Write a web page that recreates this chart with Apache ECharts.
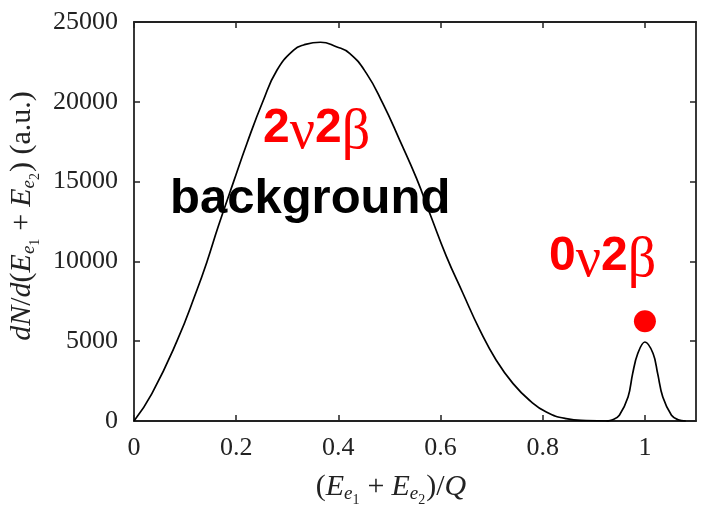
<!DOCTYPE html>
<html>
<head>
<meta charset="utf-8">
<script src="https://cdn.jsdelivr.net/npm/echarts@6/dist/echarts.min.js"></script>
<style>
  html, body { margin: 0; padding: 0; background: #fff; }
  #chart { width: 701px; height: 505px; }
</style>
</head>
<body>
<div id="chart"></div>
<script>
// Two-neutrino continuum: summed electron energy (fraction of Q) vs. rate
const bgEnergy = [0, 0.035, 0.084, 0.123, 0.143, 0.165, 0.195, 0.221, 0.252, 0.280, 0.3125,
  0.332, 0.365, 0.396, 0.422, 0.455, 0.487, 0.520, 0.553, 0.582, 0.611, 0.644, 0.677,
  0.709, 0.742, 0.774, 0.807, 0.846, 0.885, 0.93];
const bgRate = [0, 1720, 5000, 8195, 10000, 12200, 15000, 17390, 20000, 21990, 23240,
  23560, 23730, 23450, 23040, 21780, 19900, 17600, 15200, 12750, 10350, 7990, 5690,
  3810, 2340, 1300, 565, 150, 30, 0];

// Neutrinoless peak at the endpoint
const peakEnergy = [0.925, 0.937, 0.950, 0.967, 0.976, 0.986, 1.0, 1.016, 1.025, 1.035, 1.052, 1.065, 1.08];
const peakRate = [0, 80, 360, 1500, 2970, 4230, 4950, 4230, 2970, 1500, 360, 80, 0];

// Marker above the peak
const signalMarker = [[1.0, 6250]];

// Tick positions
const xTicks = [0, 0.2, 0.4, 0.6, 0.8, 1];
const yTicks = [0, 5000, 10000, 15000, 20000, 25000];

const toPairs = (xs, ys) => xs.map((x, i) => [x, ys[i]]);

const serif = 'Liberation Serif';
const frameColor = '#222';

const mathRich = {
  p:  { fontFamily: serif, fontSize: 30, lineHeight: 30, verticalAlign: 'top', color: frameColor },
  op: { fontFamily: serif, fontSize: 30, lineHeight: 30, verticalAlign: 'top', color: frameColor, padding: [0, 7, 0, 7] },
  i:  { fontFamily: serif, fontStyle: 'italic', fontSize: 30, lineHeight: 30, verticalAlign: 'top', color: frameColor },
  s:  { fontFamily: serif, fontStyle: 'italic', fontSize: 19, lineHeight: 19, verticalAlign: 'top', color: frameColor, padding: [12, 0, 0, 0] },
  ss: { fontFamily: serif, fontSize: 14, lineHeight: 14, verticalAlign: 'top', color: frameColor, padding: [21, 1, 0, 0] }
};

function axisLine() {
  return { show: true, onZero: false, lineStyle: { color: frameColor, width: 1.8 } };
}
function axisTick(values) {
  return { show: true, inside: true, length: 6, customValues: values, lineStyle: { color: frameColor, width: 1.5 } };
}

const chart = echarts.init(document.getElementById('chart'), null, { renderer: 'canvas' });

const red = '#ff0000';
const bigSans = { fontFamily: 'Liberation Sans', fontWeight: 'bold', fontSize: 48, lineHeight: 56, verticalAlign: 'top' };
const greek = { fontFamily: serif, fontSize: 56, lineHeight: 56, verticalAlign: 'top' };

chart.setOption({
  animation: false,
  backgroundColor: '#fff',
  grid: { left: 134, right: 5, top: 22, bottom: 84, containLabel: false, outerBoundsMode: 'none' },
  xAxis: [
    {
      type: 'value', min: 0, max: 1.1, position: 'bottom',
      axisLine: axisLine(),
      axisTick: axisTick(xTicks),
      axisLabel: { customValues: xTicks, fontFamily: serif, fontSize: 26, color: frameColor, margin: 14,
        formatter: v => String(v) },
      splitLine: { show: false },
      name: '{p|(}{i|E}{s|e}{ss|1}{op|+}{i|E}{s|e}{ss|2}{p|)/}{i|Q}',
      nameLocation: 'middle', nameGap: 51,
      nameTextStyle: { rich: mathRich, padding: [0, 48, 0, 0] }
    },
    {
      type: 'value', min: 0, max: 1.1, position: 'top',
      axisLine: axisLine(),
      axisTick: axisTick(xTicks),
      axisLabel: { show: false },
      splitLine: { show: false }
    }
  ],
  yAxis: [
    {
      type: 'value', min: 0, max: 25000, position: 'left',
      axisLine: axisLine(),
      axisTick: axisTick(yTicks),
      axisLabel: { customValues: yTicks, fontFamily: serif, fontSize: 26, color: frameColor, margin: 16,
        formatter: v => String(v) },
      splitLine: { show: false },
      name: '{i|dN}{p|/}{i|d}{p|(}{i|E}{s|e}{ss|1}{op|+}{i|E}{s|e}{ss|2}{p|) (a.u.)}',
      nameLocation: 'middle', nameRotate: 90, nameGap: 88,
      nameTextStyle: { rich: mathRich, padding: [0, 0, 0, 11] }
    },
    {
      type: 'value', min: 0, max: 25000, position: 'right',
      axisLine: axisLine(),
      axisTick: axisTick(yTicks),
      axisLabel: { show: false },
      splitLine: { show: false }
    }
  ],
  series: [
    {
      name: '2ν2β', type: 'line', xAxisIndex: 0, yAxisIndex: 0,
      data: toPairs(bgEnergy, bgRate),
      showSymbol: false, smooth: 0.5,
      lineStyle: { color: '#000', width: 1.7 }
    },
    {
      name: '0ν2β', type: 'line', xAxisIndex: 0, yAxisIndex: 0,
      data: toPairs(peakEnergy, peakRate),
      showSymbol: false, smooth: 0.4,
      lineStyle: { color: '#000', width: 1.7 }
    },
    {
      name: 'signal', type: 'scatter', xAxisIndex: 0, yAxisIndex: 0,
      data: signalMarker, symbolSize: 22,
      itemStyle: { color: red, opacity: 1 }
    }
  ],
  graphic: [
    {
      type: 'text', x: 263, y: 105,
      style: {
        text: '{a|2}{g|ν}{a|2}{g|β}',
        textAlign: 'left', textVerticalAlign: 'top',
        rich: { a: Object.assign({ fill: red }, bigSans), g: Object.assign({ fill: red }, greek) }
      }
    },
    {
      type: 'text', x: 170, y: 175,
      style: {
        text: 'background',
        fill: '#000',
        font: 'bold 49px "Liberation Sans"',
        textAlign: 'left', textVerticalAlign: 'top'
      }
    },
    {
      type: 'text', x: 549, y: 233,
      style: {
        text: '{a|0}{g|ν}{a|2}{g|β}',
        textAlign: 'left', textVerticalAlign: 'top',
        rich: { a: Object.assign({ fill: red }, bigSans), g: Object.assign({ fill: red }, greek) }
      }
    }
  ]
});
</script>
</body>
</html>
